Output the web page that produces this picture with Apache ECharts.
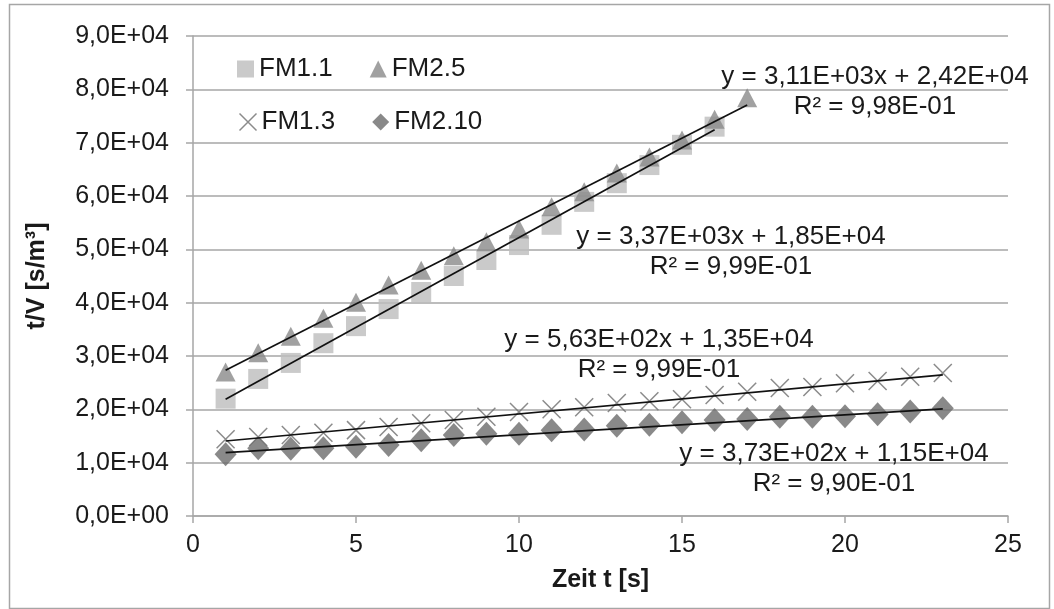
<!DOCTYPE html>
<html><head><meta charset="utf-8">
<script src="https://cdn.jsdelivr.net/npm/echarts@6/dist/echarts.min.js"></script>
<style>html,body{margin:0;padding:0;background:#fff}#c{width:1054px;height:609px}</style>
</head><body><div id="c"></div>
<script>
// ---- data ----
const xFM11 = [1,2,3,4,5,6,7,8,9,10,11,12,13,14,15,16];
const yFM11 = [22000,25700,28700,32400,35600,38800,42000,45000,48000,50800,54600,58900,62400,65800,69600,73000];
const xFM25 = [1,2,3,4,5,6,7,8,9,10,11,12,13,14,15,16,17];
const yFM25 = [27000,30600,33700,37100,40100,43300,46100,48800,51400,53800,58000,60800,64300,67300,70500,74400,78400];
const xFM13 = [1,2,3,4,5,6,7,8,9,10,11,12,13,14,15,16,17,18,19,20,21,22,23];
const yFM13 = [14400,14800,15200,15600,16100,16700,17400,18000,18600,19500,20000,20400,21200,21500,21900,22700,23300,24000,24200,24900,25300,26100,26800];
const xFM210 = [1,2,3,4,5,6,7,8,9,10,11,12,13,14,15,16,17,18,19,20,21,22,23];
const yFM210 = [11600,12700,12600,12700,13000,13300,14200,15200,15400,15400,16100,16200,16900,17100,17600,18000,18200,18600,18600,18700,19100,19600,20200];
// trendline coefficients (slope, intercept) as printed in the chart
const trendFM11 = [3370, 18500];
const trendFM25 = [3110, 24200];
const trendFM13 = [563, 13500];
const trendFM210 = [373, 11500];
const eqFM25 = ['y = 3,11E+03x + 2,42E+04', 'R² = 9,98E-01'];
const eqFM11 = ['y = 3,37E+03x + 1,85E+04', 'R² = 9,99E-01'];
const eqFM13 = ['y = 5,63E+02x + 1,35E+04', 'R² = 9,99E-01'];
const eqFM210 = ['y = 3,73E+02x + 1,15E+04', 'R² = 9,90E-01'];
const yTickLabels = ['0,0E+00','1,0E+04','2,0E+04','3,0E+04','4,0E+04','5,0E+04','6,0E+04','7,0E+04','8,0E+04','9,0E+04'];
const xTickLabels = ['0','5','10','15','20','25'];

const FONT = '"Liberation Sans", Arial, sans-serif';
const crossPath = 'path://M0,0L10,10M10,0L0,10';
const pairs = (xs, ys) => xs.map((x, i) => [x, ys[i]]);
const trend = (xs, c) => [[xs[0], c[0]*xs[0]+c[1]], [xs[xs.length-1], c[0]*xs[xs.length-1]+c[1]]];

const C11 = '#bdbdbd', C25 = '#8a8a8a', C13 = '#6e6e6e', C210 = '#6b6b6b';
const TXT = '#1a1a1a';

const chart = echarts.init(document.getElementById('c'), null, {renderer:'canvas'});
function trendSeries(xs, c) {
  return {type:'line', data: trend(xs, c), showSymbol:false, symbol:'none', silent:true,
    lineStyle:{color:'#111', width:1.7}, z:5, animation:false};
}
const eqText = (lines, cx, top) => ({
  type:'text', x: cx, y: top, z:10,
  style:{text: lines.join('\n'), font: '26px ' + FONT, fill:TXT, textAlign:'center', textVerticalAlign:'top', lineHeight: 30}
});
chart.setOption({
  animation:false,
  backgroundColor:'#fff',
  grid:{left:193, right:46, top:36, bottom:93, containLabel:false},
  xAxis:{type:'value', min:0, max:25, interval:5,
    axisLine:{show:true, onZero:false, lineStyle:{color:'#a6a6a6', width:1.5}},
    axisTick:{show:true, length:7, lineStyle:{color:'#a6a6a6', width:1.5}},
    splitLine:{show:false},
    axisLabel:{fontFamily:FONT, fontSize:25, color:TXT, margin:17,
      formatter:(v)=> xTickLabels[Math.round(v/5)]},
    name:'Zeit t [s]', nameLocation:'middle', nameGap:52,
    nameTextStyle:{fontFamily:FONT, fontSize:25, fontWeight:'bold', color:TXT}
  },
  yAxis:{type:'value', min:0, max:90000, interval:10000,
    axisLine:{show:true, lineStyle:{color:'#a6a6a6', width:1.5}},
    axisTick:{show:true, length:7, lineStyle:{color:'#a6a6a6', width:1.5}},
    splitLine:{show:true, lineStyle:{color:'#a6a6a6', width:1.5}},
    axisLabel:{fontFamily:FONT, fontSize:25, color:TXT, margin:24,
      formatter:(v)=> yTickLabels[Math.round(v/10000)]},
    name:'t/V [s/m³]', nameLocation:'middle', nameGap:143, nameRotate:90,
    nameTextStyle:{fontFamily:FONT, fontSize:25, fontWeight:'bold', color:TXT}
  },
  legend:[
    {left:237, top:56, padding:0, itemWidth:17, itemHeight:17, itemGap:37, selectedMode:false,
     textStyle:{fontFamily:FONT, fontSize:26, color:TXT},
     data:[{name:'FM1.1', icon:'rect'}, {name:'FM2.5', icon:'triangle'}]},
    {left:237, top:109, padding:0, itemWidth:17, itemHeight:17, itemGap:37, selectedMode:false,
     textStyle:{fontFamily:FONT, fontSize:26, color:TXT},
     data:[{name:'FM1.3', icon:crossPath, itemStyle:{color:'none', borderColor:C13, borderWidth:1.5}}, {name:'FM2.10', icon:'diamond'}]}
  ],
  series:[
    {name:'FM1.1', type:'scatter', data:pairs(xFM11,yFM11), symbol:'rect', symbolSize:20, itemStyle:{color:C11}, z:2},
    {name:'FM2.5', type:'scatter', data:pairs(xFM25,yFM25), symbol:'triangle', symbolSize:[20,19], itemStyle:{color:C25}, z:3},
    {name:'FM1.3', type:'scatter', data:pairs(xFM13,yFM13), symbol:crossPath, symbolSize:18,
      itemStyle:{color:'none', borderColor:C13, borderWidth:1.5}, z:2},
    {name:'FM2.10', type:'scatter', data:pairs(xFM210,yFM210), symbol:'diamond', symbolSize:[22,24], itemStyle:{color:C210}, z:3},
    trendSeries(xFM11, trendFM11),
    trendSeries(xFM25, trendFM25),
    trendSeries(xFM13, trendFM13),
    trendSeries(xFM210, trendFM210)
  ],
  graphic:[
    {type:'rect', left:7, top:2, shape:{width:1040, height:604}, style:{fill:'none', stroke:'#a6a6a6', lineWidth:1.5}, silent:true, z:-1},
    eqText(eqFM25, 875, 62),
    eqText(eqFM11, 731, 222),
    eqText(eqFM13, 659, 325),
    eqText(eqFM210, 834, 439)
  ]
});
</script></body></html>
